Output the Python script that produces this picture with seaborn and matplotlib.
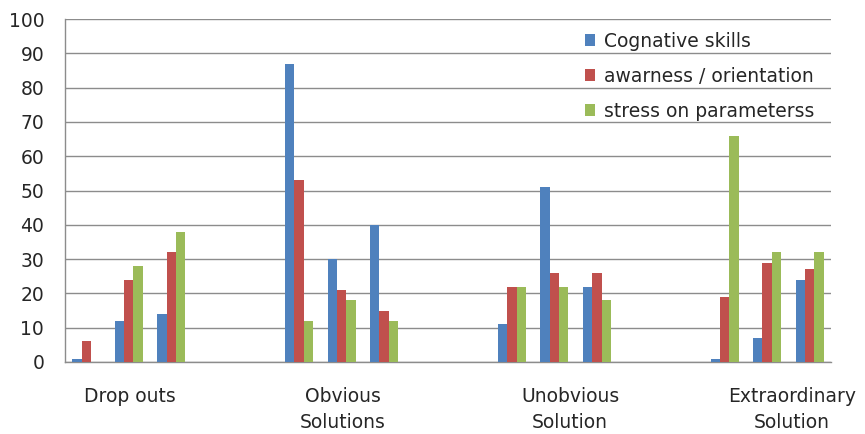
import pandas as pd
import matplotlib.pyplot as plt
import seaborn as sns

sns.set_style("white")
plt.rcParams['font.family'] = ['DejaVu Sans']

# 18 category slots, groups of three with two empty slots in between
slots = [f"s{i}" for i in range(18)]
used_slots = ["s0", "s1", "s2", "s5", "s6", "s7", "s10", "s11", "s12", "s15", "s16", "s17"]

series = ["Cognative skills", "awarness / orientation", "stress on parameterss"]
cognative = [1, 12, 14, 87, 30, 40, 11, 51, 22, 1, 7, 24]
awarness = [6, 24, 32, 53, 21, 15, 22, 26, 26, 19, 29, 27]
stress = [0, 28, 38, 12, 18, 12, 22, 22, 18, 66, 32, 32]

group_labels = ["Drop outs", "Obvious\nSolutions", "Unobvious\nSolution", "Extraordinary\nSolution"]
group_label_pos = [1.03, 6.03, 11.37, 16.58]

colors = ["#4F81BD", "#C0504D", "#9BBB59"]

rows = []
for name, vals in zip(series, [cognative, awarness, stress]):
    for s, v in zip(used_slots, vals):
        rows.append({"slot": s, "series": name, "value": v})
df = pd.DataFrame(rows)

fig = plt.figure(figsize=(8.65, 4.34), dpi=100)
ax = fig.add_axes([0.0751, 0.1659, 0.8856, 0.7903])

sns.barplot(data=df, x="slot", y="value", hue="series", order=slots,
            hue_order=series, palette=colors, width=0.66, saturation=1,
            errorbar=None, linewidth=0, ax=ax, zorder=3)

ax.set_ylim(0, 100)
ax.set_xlim(-0.5, 17.5)
ax.set_yticks(range(0, 101, 10))
ax.yaxis.grid(True, color="#8c8c8c", linewidth=1, zorder=0)
ax.set_axisbelow(True)
ax.set_xticks(group_label_pos)
ax.set_xticklabels(group_labels, fontsize=13.5, color="#262626", linespacing=1.45)
ax.tick_params(axis="x", length=0, pad=18)
ax.tick_params(axis="y", length=0, pad=15, labelsize=13.5, labelcolor="#262626")
ax.set_xlabel("")
ax.set_ylabel("")

for side in ["top", "right"]:
    ax.spines[side].set_visible(False)
for side in ["left", "bottom"]:
    ax.spines[side].set_color("#8c8c8c")
    ax.spines[side].set_linewidth(1)

leg = ax.legend(loc="upper left", bbox_to_anchor=(0.669, 0.985), frameon=False,
                fontsize=13.5, handlelength=0.55, handleheight=0.55,
                handletextpad=0.45, labelspacing=0.85, borderaxespad=0)
for t in leg.get_texts():
    t.set_color("#262626")

fig.savefig("out.png", dpi=100)
